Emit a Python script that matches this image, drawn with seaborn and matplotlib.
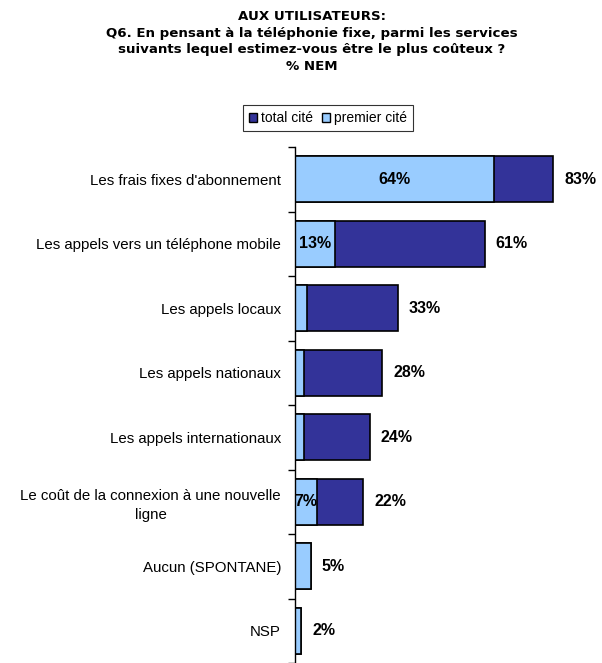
import matplotlib
matplotlib.use('Agg')
import matplotlib.pyplot as plt
import pandas as pd
import seaborn as sns
from matplotlib.patches import Patch

sns.set_theme(style='white')
plt.rcParams['font.family'] = ['Liberation Sans', 'DejaVu Sans']
plt.rcParams['text.color'] = 'black'
plt.rcParams['ytick.color'] = 'black'
plt.rcParams['ytick.labelcolor'] = 'black'

categories = [
    "Les frais fixes d'abonnement",
    "Les appels vers un téléphone mobile",
    "Les appels locaux",
    "Les appels nationaux",
    "Les appels internationaux",
    "Le coût de la connexion à une nouvelle\nligne",
    "Aucun (SPONTANE)",
    "NSP",
]
total_cite = [83, 61, 33, 28, 24, 22, 5, 2]
premier_cite = [64, 13, 4, 3, 3, 7, 5, 2]
title_lines = [
    "AUX UTILISATEURS:",
    "Q6. En pensant à la téléphonie fixe, parmi les services",
    "suivants lequel estimez-vous être le plus coûteux ?",
    "% NEM",
]

DARK = '#333399'
LIGHT = '#99CCFF'

df = pd.DataFrame({'cat': categories, 'total': total_cite, 'premier': premier_cite})

fig = plt.figure(figsize=(6.02, 6.63), dpi=100)
ax = fig.add_axes([295 / 602, 0.0, 311 / 602, 1 - 147 / 663])

sns.barplot(data=df, y='cat', x='total', orient='h', color=DARK, saturation=1,
            width=0.72, edgecolor='black', linewidth=1.2, ax=ax)
sns.barplot(data=df, y='cat', x='premier', orient='h', color=LIGHT, saturation=1,
            width=0.72, edgecolor='black', linewidth=1.2, ax=ax)

ax.set_xlim(0, 100)
ax.set_ylim(len(categories) - 0.5, -0.5)
ax.set_xlabel('')
ax.set_ylabel('')
ax.set_xticks([])
for side in ['top', 'right', 'bottom']:
    ax.spines[side].set_visible(False)
ax.spines['left'].set_color('black')
ax.spines['left'].set_linewidth(1.0)

# labels between tick marks, tick marks at category boundaries
ax.set_yticks(range(len(categories)))
ax.set_yticklabels(categories, fontsize=10.8, multialignment='center', linespacing=1.45)
ax.set_yticks([i - 0.5 for i in range(len(categories) + 1)], minor=True)
ax.tick_params(axis='y', which='major', length=0, pad=10)
ax.tick_params(axis='y', which='minor', length=5, width=1, color='black', direction='out', left=True)

for i, (t, p) in enumerate(zip(total_cite, premier_cite)):
    ax.annotate(f'{t}%', (t, i), xytext=(8, 0), textcoords='offset points',
                va='center', ha='left', fontsize=11.5, fontweight='bold')
    if p >= 7 and p != t:
        ax.text(p / 2, i, f'{p}%', va='center', ha='center', fontsize=11.5, fontweight='bold')

handles = [Patch(facecolor=DARK, edgecolor='black', label='total cité'),
           Patch(facecolor=LIGHT, edgecolor='black', label='premier cité')]
leg = fig.legend(handles=handles, loc='center', bbox_to_anchor=(328 / 602, 1 - 118 / 663),
                 ncol=2, fontsize=10, frameon=True, fancybox=False, handlelength=0.6,
                 handleheight=0.6, handletextpad=0.3, columnspacing=0.6,
                 borderpad=0.4, borderaxespad=0)
leg.get_frame().set_edgecolor('black')
leg.get_frame().set_linewidth(0.8)

for k, line in enumerate(title_lines):
    fig.text(312 / 602, 1 - (16 + 17 * k) / 663, line, ha='center', va='center',
             fontsize=9.6, fontweight='bold', family=['DejaVu Sans'])

fig.savefig('out.png', dpi=100)
